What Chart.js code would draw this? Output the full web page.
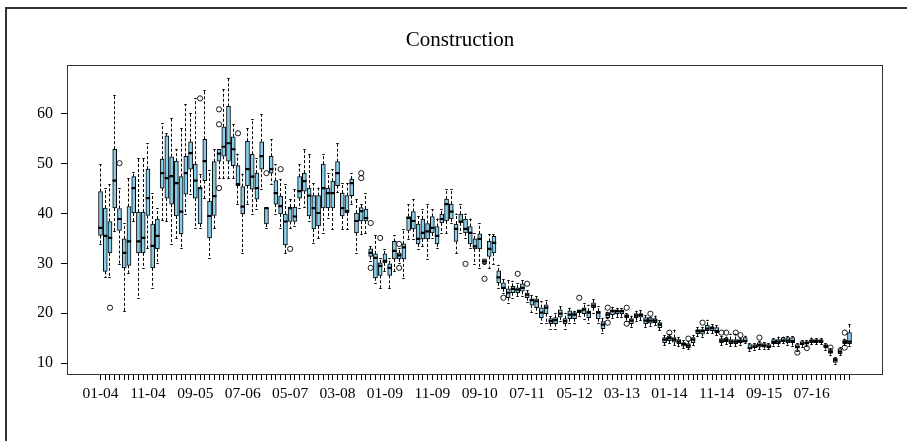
<!DOCTYPE html>
<html><head><meta charset="utf-8">
<script src="https://cdn.jsdelivr.net/npm/chart.js@4"></script>
<style>html,body{margin:0;padding:0;background:#fff}#wrap{width:907px;height:441px;position:relative}</style>
</head><body><div id="wrap"><canvas id="c" width="907" height="441"></canvas></div>
<script>
const chartTitle = 'Construction';
// tick labels, one every 10 months starting at Jan 2004 (index 0)
const tickLabels = ['01-04','11-04','09-05','07-06','05-07','03-08','01-09','11-09','09-10','07-11','05-12','03-13','01-14','11-14','09-15','07-16'];
const tickEvery = 10;
const yTicks = [10,20,30,40,50,60];

// monthly box statistics, Jan 2004 .. Mar 2017
const hiW = [49.9,45.1,45.9,63.7,45.1,38.1,47.1,48.4,51.1,51.1,
54.1,44.1,41.1,58.1,56.1,59.1,52.9,57.1,61.9,60.1,
63.1,48.0,64.7,48.7,52.9,52.9,64.9,67.2,57.9,52.0,
48.0,57.1,58.9,51.1,59.9,41.1,54.9,49.9,46.9,45.9,
43.0,44.9,49.9,52.9,51.9,46.1,45.2,51.9,48.1,48.9,
54.1,46.1,46.1,48.1,42.9,42.0,44.1,33.5,35.7,31.0,
32.9,31.0,35.7,33.0,36.9,41.9,42.9,39.5,40.9,41.9,
40.9,39.0,40.9,44.9,44.9,40.0,41.9,40.0,39.0,36.0,
38.1,30.9,35.9,35.9,29.7,26.9,26.7,26.5,26.0,26.7,
24.6,23.7,23.4,22.4,22.7,19.4,20.0,21.5,20.0,21.1,
20.5,20.7,22.1,21.7,22.9,21.4,19.1,20.3,21.3,21.0,
21.0,20.0,19.5,20.5,20.7,19.6,19.3,19.5,18.6,15.6,
15.8,16.7,15.2,14.6,14.4,15.6,17.2,17.2,18.7,17.8,
17.6,15.4,15.3,15.9,15.9,15.0,15.5,14.0,14.0,14.4,
14.2,14.0,15.0,15.3,15.3,15.4,15.4,14.0,14.6,14.6,
15.1,15.0,15.0,14.0,13.0,11.2,13.2,14.9,17.9];
const q3 = [44.4,41.1,38.4,52.9,41.0,34.9,41.4,47.4,40.3,40.3,
48.9,37.9,38.9,50.9,55.6,51.4,50.5,47.4,51.5,54.4,
49.9,45.1,54.9,42.5,50.4,52.9,57.4,61.5,55.4,49.6,
45.4,54.5,51.9,48.1,54.4,41.1,51.5,46.6,43.5,39.9,
41.3,41.3,47.4,48.1,45.1,43.6,43.6,49.9,45.1,46.5,
50.4,44.1,43.6,46.9,40.1,41.2,40.9,32.9,31.9,30.1,
31.9,29.9,34.4,32.1,33.9,39.4,40.4,37.9,38.9,38.0,
39.4,37.4,39.9,42.9,41.9,37.9,39.9,38.9,37.4,34.9,
35.9,30.9,34.4,35.4,28.5,26.1,24.9,25.4,25.1,25.9,
24.1,22.9,22.9,21.1,21.7,18.9,19.1,20.7,18.9,20.5,
20.1,20.7,21.1,20.4,22.1,20.4,18.3,20.1,20.7,20.7,
20.7,19.7,18.9,19.9,19.9,19.1,19.1,18.9,18.1,15.1,
15.4,15.1,14.7,14.1,13.9,15.1,16.7,16.7,17.6,17.3,
17.1,14.9,15.0,14.7,14.7,14.7,15.1,13.7,13.7,14.1,
13.9,13.7,14.7,14.7,15.1,15.1,15.1,13.7,14.3,14.3,
14.7,14.7,14.7,13.7,12.6,11.0,12.9,14.6,16.1];
const med = [37.1,35.5,35.1,46.6,38.9,32.1,34.4,45.1,34.4,35.1,
43.1,33.5,35.5,48.1,47.1,47.5,46.1,40.4,48.1,52.1,
46.6,45.1,50.5,39.5,43.5,52.0,53.4,54.1,52.9,45.9,
41.4,48.9,47.4,45.1,51.5,41.1,48.9,44.1,41.5,38.4,
41.1,39.4,44.5,46.5,43.6,41.1,40.1,45.1,44.1,44.1,
48.1,41.1,40.5,46.1,38.5,40.5,39.1,32.1,31.1,29.5,
30.5,29.1,32.5,31.6,33.2,39.1,38.5,34.9,36.1,36.4,
37.1,35.5,38.9,41.9,40.4,36.9,38.4,36.9,36.1,33.4,
34.9,30.4,32.9,34.1,27.2,25.1,24.1,24.9,24.7,25.1,
23.7,22.6,22.4,20.1,21.1,18.4,18.6,19.9,18.4,19.7,
19.7,20.4,20.7,20.1,21.5,20.1,17.7,19.7,20.4,20.4,
20.4,19.4,18.5,19.5,19.6,18.5,18.5,18.5,17.7,14.7,
15.0,14.7,14.3,13.8,13.5,14.7,16.4,16.4,16.9,17.0,
16.4,14.5,14.6,14.3,14.3,14.4,14.4,13.0,13.3,13.6,
13.5,13.3,14.2,14.3,14.5,14.5,14.4,13.2,13.9,14.0,
14.4,14.4,14.4,13.4,12.2,10.6,12.3,14.2,14.3];
const q1 = [35.6,28.4,32.1,41.1,36.6,29.1,29.6,40.1,32.1,32.1,
39.6,29.1,32.9,45.1,43.1,41.9,39.5,35.9,43.9,48.9,
43.1,37.9,46.6,35.1,39.6,50.5,51.5,50.5,49.6,45.6,
39.9,45.6,44.9,42.9,48.9,37.9,48.1,41.9,39.9,33.7,
38.4,38.4,43.1,44.5,39.5,36.9,37.5,41.1,41.1,41.1,
45.6,39.5,40.1,43.6,36.1,38.5,38.5,31.4,27.1,27.6,
30.1,27.6,30.9,30.9,30.9,36.6,36.9,33.9,34.9,34.9,
36.1,33.9,38.1,38.5,38.9,34.4,38.1,36.1,33.9,32.9,
32.9,29.9,31.4,32.1,26.1,24.9,23.1,24.1,24.1,24.4,
23.1,21.6,21.1,19.1,19.9,17.9,17.9,19.2,17.9,18.9,
18.9,20.1,19.9,19.1,21.1,18.9,16.9,19.1,19.7,19.9,
19.9,19.1,17.9,19.1,19.2,17.9,18.0,18.1,17.1,14.1,
14.5,14.2,13.9,13.4,13.1,14.1,15.9,15.8,16.5,16.5,
16.1,14.1,14.3,13.9,13.9,14.1,14.4,12.9,13.1,13.2,
13.2,13.1,13.9,13.9,14.3,14.1,14.1,13.1,13.7,13.9,
14.1,14.1,14.1,13.1,12.0,10.1,11.9,13.9,13.9];
const loW = [33.9,27.2,27.2,36.5,29.9,20.4,28.1,38.5,23.1,29.1,
33.1,25.1,30.1,38.7,38.5,33.9,35.1,33.1,40.0,44.0,
37.1,37.1,43.1,31.1,37.1,47.1,47.1,47.1,47.1,41.9,
32.1,41.9,39.9,40.9,44.9,37.1,46.0,39.9,37.1,32.1,
37.1,37.4,41.1,41.4,38.4,34.1,35.1,36.1,39.1,36.9,
44.3,36.9,36.9,42.0,32.1,35.9,36.1,30.5,26.1,25.1,
28.5,25.1,28.5,30.0,27.1,34.9,34.9,32.9,33.5,30.9,
35.0,33.0,36.1,36.1,38.0,32.1,36.1,35.0,33.0,29.9,
29.1,29.9,29.1,29.9,25.0,24.0,22.1,23.1,23.4,23.4,
22.2,20.3,20.1,18.1,18.1,16.9,16.9,18.5,16.9,18.1,
18.1,19.5,18.9,18.1,20.1,18.1,16.1,19.0,19.0,19.3,
19.3,18.5,17.2,18.5,18.6,17.2,17.5,17.6,16.6,13.6,
14.0,13.6,13.4,13.0,12.8,13.6,15.4,15.3,16.0,16.0,
15.6,13.6,13.8,13.4,13.4,13.7,14.0,12.5,12.7,12.8,
12.9,12.8,13.5,13.5,14.0,13.7,13.5,12.5,13.2,13.4,
13.8,13.8,13.8,12.7,11.7,9.9,11.6,13.6,13.5];
// outliers: month index and value
const outIdx = [2,4,21,25,25,25,29,35,38,40,55,55,57,57,59,63,63,77,81,85,88,90,101,107,107,111,111,116,120,124,127,131,132,134,135,139,147,149,154,157,157];
const outVal = [21.1,50.1,63.1,60.9,57.9,45.1,56.1,48.1,48.9,32.9,48.1,47.1,38.1,29.1,35.1,29.1,33.9,29.9,26.9,23.1,27.9,25.9,23.1,21.1,18.1,21.1,17.9,19.9,16.1,14.9,18.1,16.1,16.1,16.1,15.6,15.1,12.1,13.0,13.1,16.1,13.1];

const N = med.length;
const FONT = 'Liberation Serif';
const boxData = med.map((_, i) => ({x: i, y: [q1[i], q3[i]]}));
const outData = outIdx.map((i, k) => ({x: i, y: outVal[k]}));

const boxParts = {
  id: 'boxParts',
  beforeDraw(chart) {
    const ctx = chart.ctx;
    ctx.save();
    ctx.fillStyle = '#fff';
    ctx.fillRect(0, 0, chart.width, chart.height);
    ctx.strokeStyle = '#333';
    ctx.lineWidth = 2;
    ctx.beginPath();
    ctx.moveTo(6, chart.height + 5);
    ctx.lineTo(6, 8);
    ctx.lineTo(chart.width + 5, 8);
    ctx.stroke();
    ctx.restore();
  },
  beforeDatasetsDraw(chart) {
    const {ctx, scales: {x, y}} = chart;
    ctx.save();
    ctx.strokeStyle = '#000';
    ctx.lineWidth = 1;
    for (let i = 0; i < N; i++) {
      const cx = Math.floor(x.getPixelForValue(i)) + 0.5;
      const pHi = y.getPixelForValue(hiW[i]), pQ3 = y.getPixelForValue(q3[i]);
      const pLo = y.getPixelForValue(loW[i]), pQ1 = y.getPixelForValue(q1[i]);
      ctx.setLineDash([3, 2]);
      ctx.beginPath();
      ctx.moveTo(cx, pQ3); ctx.lineTo(cx, pHi);
      ctx.moveTo(cx, pQ1); ctx.lineTo(cx, pLo);
      ctx.stroke();
      ctx.setLineDash([]);
      ctx.beginPath();
      ctx.moveTo(cx - 1.2, Math.round(pHi) + 0.5); ctx.lineTo(cx + 1.2, Math.round(pHi) + 0.5);
      ctx.moveTo(cx - 1.2, Math.round(pLo) + 0.5); ctx.lineTo(cx + 1.2, Math.round(pLo) + 0.5);
      ctx.stroke();
    }
    ctx.restore();
  },
  afterDatasetsDraw(chart) {
    const {ctx, scales: {x, y}, chartArea: a} = chart;
    ctx.save();
    ctx.strokeStyle = '#000';
    ctx.lineWidth = 2.2;
    ctx.beginPath();
    for (let i = 0; i < N; i++) {
      const cx = x.getPixelForValue(i);
      const pm = y.getPixelForValue(med[i]);
      ctx.moveTo(cx - 2.2, pm); ctx.lineTo(cx + 2.2, pm);
    }
    ctx.stroke();
    ctx.strokeStyle = '#333';
    ctx.lineWidth = 1;
    ctx.strokeRect(a.left - 0.5, a.top - 0.5, a.right - a.left + 1, a.bottom - a.top + 1);
    ctx.restore();
  }
};

new Chart(document.getElementById('c'), {
  type: 'bar',
  data: {
    datasets: [
      {type: 'bar', data: boxData, backgroundColor: '#87CEEB', borderColor: '#000', borderWidth: 1,
       borderSkipped: false, barThickness: 4, grouped: false, order: 2},
      {type: 'scatter', data: outData, pointStyle: 'circle', pointRadius: 2.6,
       pointBackgroundColor: 'rgba(255,255,255,0)', pointBorderColor: '#000', pointBorderWidth: 0.9, order: 1}
    ]
  },
  options: {
    responsive: false, animation: false, devicePixelRatio: 1,
    layout: {padding: {left: 38, right: 25, top: 0, bottom: 0}},
    plugins: {
      legend: {display: false}, tooltip: {enabled: false},
      title: {display: true, text: chartTitle, color: '#000',
        font: {family: FONT, size: 21, weight: 'normal', lineHeight: 1.2},
        padding: {top: 27.5, bottom: 13.3}}
    },
    scales: {
      x: {
        type: 'linear', min: -6.86, max: N - 1 + 6.86, offset: false,
        afterBuildTicks: s => { s.ticks = med.map((_, i) => ({value: i})); },
        afterFit: s => { s.height = 67; },
        grid: {display: true, offset: false, drawOnChartArea: false, drawTicks: true, tickLength: 6, color: '#000', lineWidth: 1},
        border: {display: false},
        ticks: {autoSkip: false, maxRotation: 0, minRotation: 0, padding: 5, color: '#000',
          font: {family: FONT, size: 15.5},
          callback: v => (v % tickEvery === 0 ? tickLabels[v / tickEvery] : '')}
      },
      y: {
        min: 7.8, max: 69.6, beginAtZero: false,
        afterBuildTicks: s => { s.ticks = yTicks.map(v => ({value: v})); },
        afterFit: s => { s.width = 30; },
        grid: {display: true, drawOnChartArea: false, drawTicks: true, tickLength: 7, color: '#000', lineWidth: 1},
        border: {display: false},
        ticks: {padding: 8, color: '#000', font: {family: FONT, size: 16}}
      }
    }
  },
  plugins: [boxParts]
});
</script>
</body></html>
